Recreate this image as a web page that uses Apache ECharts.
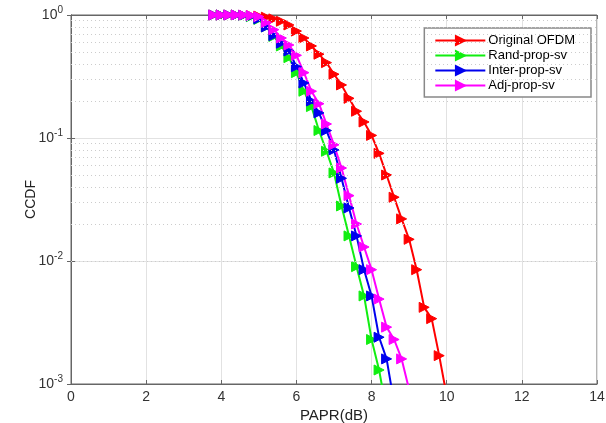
<!DOCTYPE html>
<html>
<head>
<meta charset="utf-8">
<script src="https://cdn.jsdelivr.net/npm/echarts@6/dist/echarts.min.js"></script>
<style>
  html, body { margin: 0; padding: 0; background: #fff; }
  #main { width: 606px; height: 423px; }
</style>
</head>
<body>
<div id="main"></div>
<script>
// PAPR 门限 (dB)
var papr = [3.8, 4.0, 4.2, 4.4, 4.6, 4.8, 5.0, 5.2, 5.4, 5.6, 5.8, 6.0, 6.2, 6.4, 6.6, 6.8,
            7.0, 7.2, 7.4, 7.6, 7.8, 8.0, 8.2, 8.4, 8.6, 8.8, 9.0, 9.2, 9.4, 9.6, 9.8, 10.0];

// 各方案的 CCDF
var originalOfdm = [1, 1, 1, 0.999, 0.997, 0.99, 0.98, 0.96, 0.93, 0.89, 0.83, 0.74, 0.65, 0.56, 0.48, 0.41,
                    0.33, 0.27, 0.21, 0.165, 0.135, 0.105, 0.075, 0.05, 0.033, 0.022, 0.015, 0.0085, 0.0042, 0.0034, 0.0017, 0.0008];
var randPropSv = [1, 1, 1, 0.998, 0.99, 0.97, 0.92, 0.8, 0.67, 0.56, 0.45, 0.34, 0.24, 0.18, 0.115, 0.078,
                  0.052, 0.028, 0.016, 0.009, 0.0052, 0.0023, 0.0013, 0.0006];
var interPropSv = [1, 1, 1, 0.999, 0.995, 0.98, 0.93, 0.8, 0.68, 0.59, 0.51, 0.38, 0.28, 0.2, 0.16, 0.115,
                   0.08, 0.047, 0.027, 0.016, 0.0085, 0.0052, 0.0024, 0.0016, 0.0007];
var adjPropSv = [1, 1, 1, 1, 0.998, 0.99, 0.97, 0.87, 0.76, 0.65, 0.57, 0.47, 0.34, 0.24, 0.19, 0.13,
                 0.088, 0.057, 0.034, 0.02, 0.013, 0.0085, 0.0049, 0.0029, 0.0023, 0.0016, 0.0009];

var seriesNames = ['Original OFDM', 'Rand-prop-sv', 'Inter-prop-sv', 'Adj-prop-sv'];
var seriesColors = ['#ff0000', '#11ee11', '#0000ee', '#ff00ff'];

// 对数轴的次网格 (2..9 x 10^k)
var minorGrid = [];
[0.001, 0.01, 0.1].forEach(function (d) {
    for (var m = 2; m <= 9; m++) minorGrid.push(+(m * d).toPrecision(3));
});

function pairs(ys) {
    var out = [];
    for (var i = 0; i < ys.length; i++) out.push([papr[i], ys[i]]);
    return out;
}

var FONT = '"Liberation Sans", Arial, sans-serif';
var AXIS_COLOR = '#666';

function makeSeries(name, ys, color) {
    return {
        name: name,
        type: 'line',
        data: pairs(ys),
        symbol: 'triangle',
        symbolRotate: -90,
        symbolSize: 10,
        clip: true,
        lineStyle: { color: color, width: 2 },
        itemStyle: { color: color, borderColor: color, borderWidth: 1 },
        emphasis: { disabled: true },
        z: 3
    };
}

var series = [
    makeSeries(seriesNames[0], originalOfdm, seriesColors[0]),
    makeSeries(seriesNames[1], randPropSv, seriesColors[1]),
    makeSeries(seriesNames[2], interPropSv, seriesColors[2]),
    makeSeries(seriesNames[3], adjPropSv, seriesColors[3])
];

// 次网格线用 markLine 画
series.push({
    name: 'minor',
    type: 'line',
    data: [],
    silent: true,
    z: 1,
    markLine: {
        silent: true,
        symbol: 'none',
        label: { show: false },
        lineStyle: { color: '#cccccc', type: [1, 3], width: 1 },
        data: minorGrid.map(function (v) { return { yAxis: v }; })
    }
});

var option = {
    animation: false,
    backgroundColor: '#fff',
    textStyle: { fontFamily: FONT },
    grid: {
        left: 71, right: 9, top: 15, bottom: 39,
        outerBoundsMode: 'none',
        show: true, borderColor: AXIS_COLOR, borderWidth: 1
    },
    legend: {
        data: seriesNames,
        orient: 'vertical',
        right: 15,
        top: 28,
        backgroundColor: '#fff',
        borderColor: '#888',
        borderWidth: 1.5,
        padding: [6, 16, 5, 10],
        itemGap: 2,
        itemWidth: 50,
        itemHeight: 11,
        textStyle: { fontSize: 13, color: '#000', fontFamily: FONT, padding: [0, 0, 0, -2] }
    },
    xAxis: [{
        type: 'value',
        min: 0, max: 14, interval: 2,
        name: 'PAPR(dB)',
        nameLocation: 'middle',
        nameGap: 24,
        nameMoveOverlap: false,
        nameTextStyle: { fontSize: 15, color: '#222' },
        axisLine: { show: true, lineStyle: { color: AXIS_COLOR } },
        axisTick: { show: true, inside: true, length: 4, lineStyle: { color: AXIS_COLOR } },
        axisLabel: { fontSize: 14, color: '#333', margin: 6 },
        splitLine: { show: true, lineStyle: { color: '#e2e2e2', width: 1 } }
    }, {
        type: 'value',
        position: 'top',
        min: 0, max: 14, interval: 2,
        axisLine: { show: true, lineStyle: { color: AXIS_COLOR } },
        axisTick: { show: true, inside: true, length: 4, lineStyle: { color: AXIS_COLOR } },
        axisLabel: { show: false },
        splitLine: { show: false }
    }],
    yAxis: [{
        type: 'log',
        logBase: 10,
        min: 0.001, max: 1,
        name: 'CCDF',
        nameLocation: 'middle',
        nameGap: 33,
        nameMoveOverlap: false,
        nameTextStyle: { fontSize: 14, color: '#222' },
        axisLine: { show: true, lineStyle: { color: AXIS_COLOR } },
        axisTick: { show: true, inside: true, length: 4, lineStyle: { color: AXIS_COLOR } },
        axisLabel: {
            color: '#333',
            margin: 8,
            formatter: function (v) {
                var e = Math.round(Math.log(v) / Math.LN10);
                return '{b|10}{s|' + e + '}';
            },
            rich: {
                b: { fontSize: 14, color: '#333', fontFamily: FONT },
                s: { fontSize: 10, color: '#333', fontFamily: FONT, verticalAlign: 'top', padding: [0, 0, 9, 0] }
            }
        },
        splitLine: { show: true, lineStyle: { color: '#e2e2e2', width: 1 } }
    }, {
        type: 'log',
        logBase: 10,
        min: 0.001, max: 1,
        position: 'right',
        axisLine: { show: true, lineStyle: { color: AXIS_COLOR } },
        axisTick: { show: true, inside: true, length: 4, lineStyle: { color: AXIS_COLOR } },
        axisLabel: { show: false },
        splitLine: { show: false }
    }],
    series: series
};

var chart = echarts.init(document.getElementById('main'));
chart.setOption(option);
</script>
</body>
</html>
